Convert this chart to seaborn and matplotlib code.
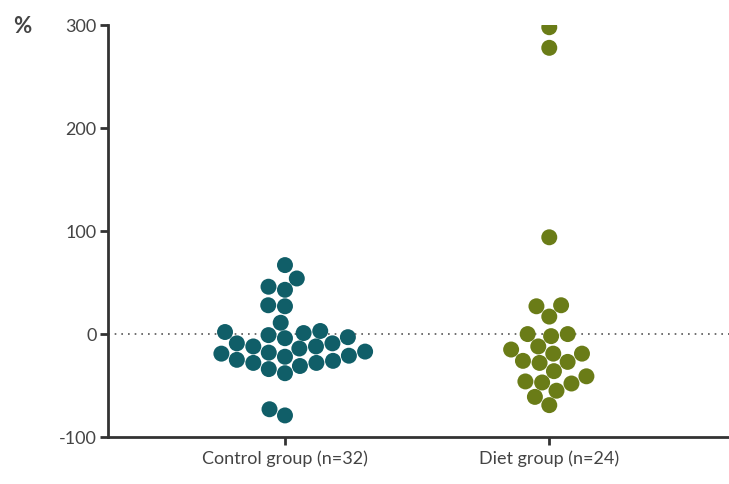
import pandas as pd
import matplotlib
matplotlib.use("Agg")
import matplotlib.pyplot as plt
import seaborn as sns

groups = ["Control group (n=32)", "Diet group (n=24)"]
control = [67, 54, 43, 46, 28, 27, 11,
           2, -1, -4, -9, -12, -12, -9, -3, 1, 3,
           -17, -19, -22, -26, -28, -34, -38, -31, -28, -25, -21, -18, -14,
           -79, -73]
diet = [298, 278, 94, 27, 28, 17, 0, -2, 0, -15, -12, -19, -19,
        -27, -26, -28, -36, -41, -46, -48, -47, -55, -61, -69]
colors = ["#105e68", "#6a7c17"]

df = pd.DataFrame({
    "group": [groups[0]] * len(control) + [groups[1]] * len(diet),
    "value": control + diet,
})

sns.set_style("white")
plt.rcParams["font.family"] = ["Lato", "DejaVu Sans"]
plt.rcParams["axes.unicode_minus"] = False

fig = plt.figure(figsize=(7.29, 4.84), dpi=100)
ax = fig.add_axes([0.148, 0.097, 0.852, 0.851])
sns.swarmplot(data=df, x="group", y="value", hue="group", palette=colors,
              order=groups, size=11.5, linewidth=0, legend=False, ax=ax)

ax.axhline(0, color="#555555", linestyle=(0, (1, 3)), linewidth=1.2, zorder=0)
ax.set_xlim(-0.67, 1.68)
ax.set_ylim(-100, 300)
ax.set_yticks([-100, 0, 100, 200, 300])
ax.set_xlabel("")
ax.set_ylabel("")
for s in ["top", "right"]:
    ax.spines[s].set_visible(False)
for s in ["left", "bottom"]:
    ax.spines[s].set_linewidth(2)
    ax.spines[s].set_color("#333333")
ax.tick_params(axis="both", direction="out", length=6, width=2, color="#333333",
               labelsize=13, labelcolor="#444444", bottom=True, left=True)
ax.tick_params(axis="y", pad=2)
fig.text(0.018, 0.945, "%", fontsize=16, fontweight="bold", color="#444444",
         va="center", ha="left")

fig.savefig("out.png", dpi=100)
